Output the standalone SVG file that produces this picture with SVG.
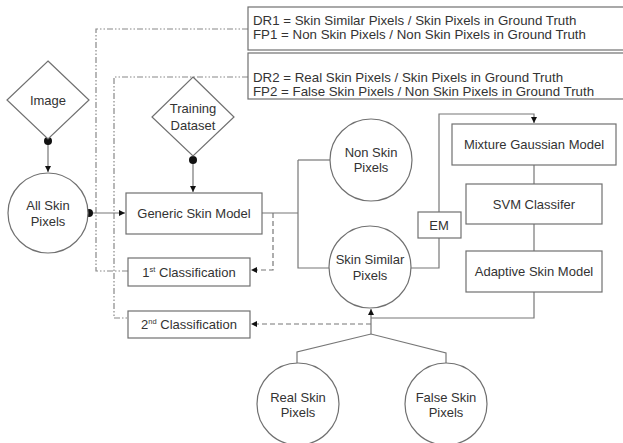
<svg xmlns="http://www.w3.org/2000/svg" width="623" height="443" viewBox="0 0 623 443">
<defs>
<style>
.s{fill:#fff;stroke:#707070;stroke-width:1.2}
.c{fill:none;stroke:#777;stroke-width:1.2}
.d{fill:none;stroke:#777;stroke-width:1.2;stroke-dasharray:5,3}
.dd{fill:none;stroke:#888;stroke-width:1.2;stroke-dasharray:6,2,1.5,2,1.5,2}
text{font-family:"Liberation Sans",Arial,sans-serif;font-size:13px;fill:#333;text-anchor:middle}
.l{text-anchor:start;font-size:13.3px}
.dot{fill:#111}
</style>
<marker id="a" viewBox="0 0 10 10" refX="10" refY="5" markerWidth="6" markerHeight="6" orient="auto" markerUnits="userSpaceOnUse">
<path d="M0,0L10,5L0,10z" fill="#111"/>
</marker>
</defs>
<rect width="623" height="443" fill="#fff"/>

<g id="connectors">
<path class="dd" d="M248,29H96V271H128"/>
<path class="dd" d="M248,77H114V318H128"/>
<path class="c" d="M48,141V172" marker-end="url(#a)"/>
<path class="c" d="M193,160V192" marker-end="url(#a)"/>
<path class="c" d="M89,213H125" marker-end="url(#a)"/>
<path class="c" d="M262,213H298"/>
<path class="c" d="M298,160V268H329"/>
<path class="c" d="M298,160H330"/>
<path class="d" d="M273,213V270H251" marker-end="url(#a)"/>
<path class="c" d="M411,268H439V114H534V123" marker-end="url(#a)"/>
<path class="c" d="M534,165V184M534,224V251"/>
<path class="c" d="M534,292V318H371"/>
<path class="c" d="M371,334V309" marker-end="url(#a)"/>
<path class="d" d="M371,324H251" marker-end="url(#a)"/>
<path class="c" d="M297,363V352L371,334L446,353V363"/>
<circle class="dot" cx="48" cy="141" r="4"/>
<circle class="dot" cx="193" cy="160" r="4"/>
<circle class="dot" cx="89" cy="213" r="4"/>
</g>

<g id="dr1">
<rect class="s" x="248" y="7" width="380" height="43"/>
<text class="l" x="253" y="25">DR1 = Skin Similar Pixels / Skin Pixels in Ground Truth</text>
<text class="l" x="253" y="39">FP1 = Non Skin Pixels / Non Skin Pixels in Ground Truth</text>
</g>
<g id="dr2">
<rect class="s" x="248" y="53" width="380" height="46"/>
<text class="l" x="253" y="82">DR2 = Real Skin Pixels / Skin Pixels in Ground Truth</text>
<text class="l" x="253" y="96">FP2 = False Skin Pixels / Non Skin Pixels in Ground Truth</text>
</g>

<g id="image">
<path class="s" d="M48,61L89,100L48,139L7,100Z"/>
<text x="48" y="105">Image</text>
</g>
<g id="training">
<path class="s" d="M193,77L234,117L193,156L152,117Z"/>
<text x="193" y="113">Training</text>
<text x="193" y="130">Dataset</text>
</g>
<g id="allskin">
<circle class="s" cx="48" cy="213" r="40"/>
<text x="48" y="210">All Skin</text>
<text x="48" y="226">Pixels</text>
</g>
<g id="generic">
<rect class="s" x="126" y="193" width="136" height="41"/>
<text x="194" y="218">Generic Skin Model</text>
</g>
<g id="first">
<rect class="s" x="128" y="258" width="122" height="28"/>
<text x="189" y="277">1<tspan font-size="7.5" dy="-5">st</tspan><tspan dy="5"> Classification</tspan></text>
</g>
<g id="second">
<rect class="s" x="128" y="311" width="122" height="27"/>
<text x="189" y="329">2<tspan font-size="7.5" dy="-5">nd</tspan><tspan dy="5"> Classification</tspan></text>
</g>
<g id="nonskin">
<circle class="s" cx="371" cy="160" r="41"/>
<text x="371" y="157">Non Skin</text>
<text x="371" y="172">Pixels</text>
</g>
<g id="skinsimilar">
<circle class="s" cx="370" cy="267" r="41"/>
<text x="370" y="264">Skin Similar</text>
<text x="370" y="280">Pixels</text>
</g>
<g id="em">
<rect class="s" x="418" y="212" width="43" height="26"/>
<text x="439" y="230">EM</text>
</g>
<g id="mgm">
<rect class="s" x="452" y="124" width="164" height="41"/>
<text x="534" y="149">Mixture Gaussian Model</text>
</g>
<g id="svm">
<rect class="s" x="466" y="184" width="136" height="40"/>
<text x="534" y="209">SVM Classifer</text>
</g>
<g id="adaptive">
<rect class="s" x="466" y="251" width="136" height="41"/>
<text x="534" y="276">Adaptive Skin Model</text>
</g>
<g id="realskin">
<circle class="s" cx="298" cy="404" r="41"/>
<text x="298" y="402">Real Skin</text>
<text x="298" y="417">Pixels</text>
</g>
<g id="falseskin">
<circle class="s" cx="446" cy="404" r="41"/>
<text x="446" y="402">False Skin</text>
<text x="446" y="417">Pixels</text>
</g>
</svg>
